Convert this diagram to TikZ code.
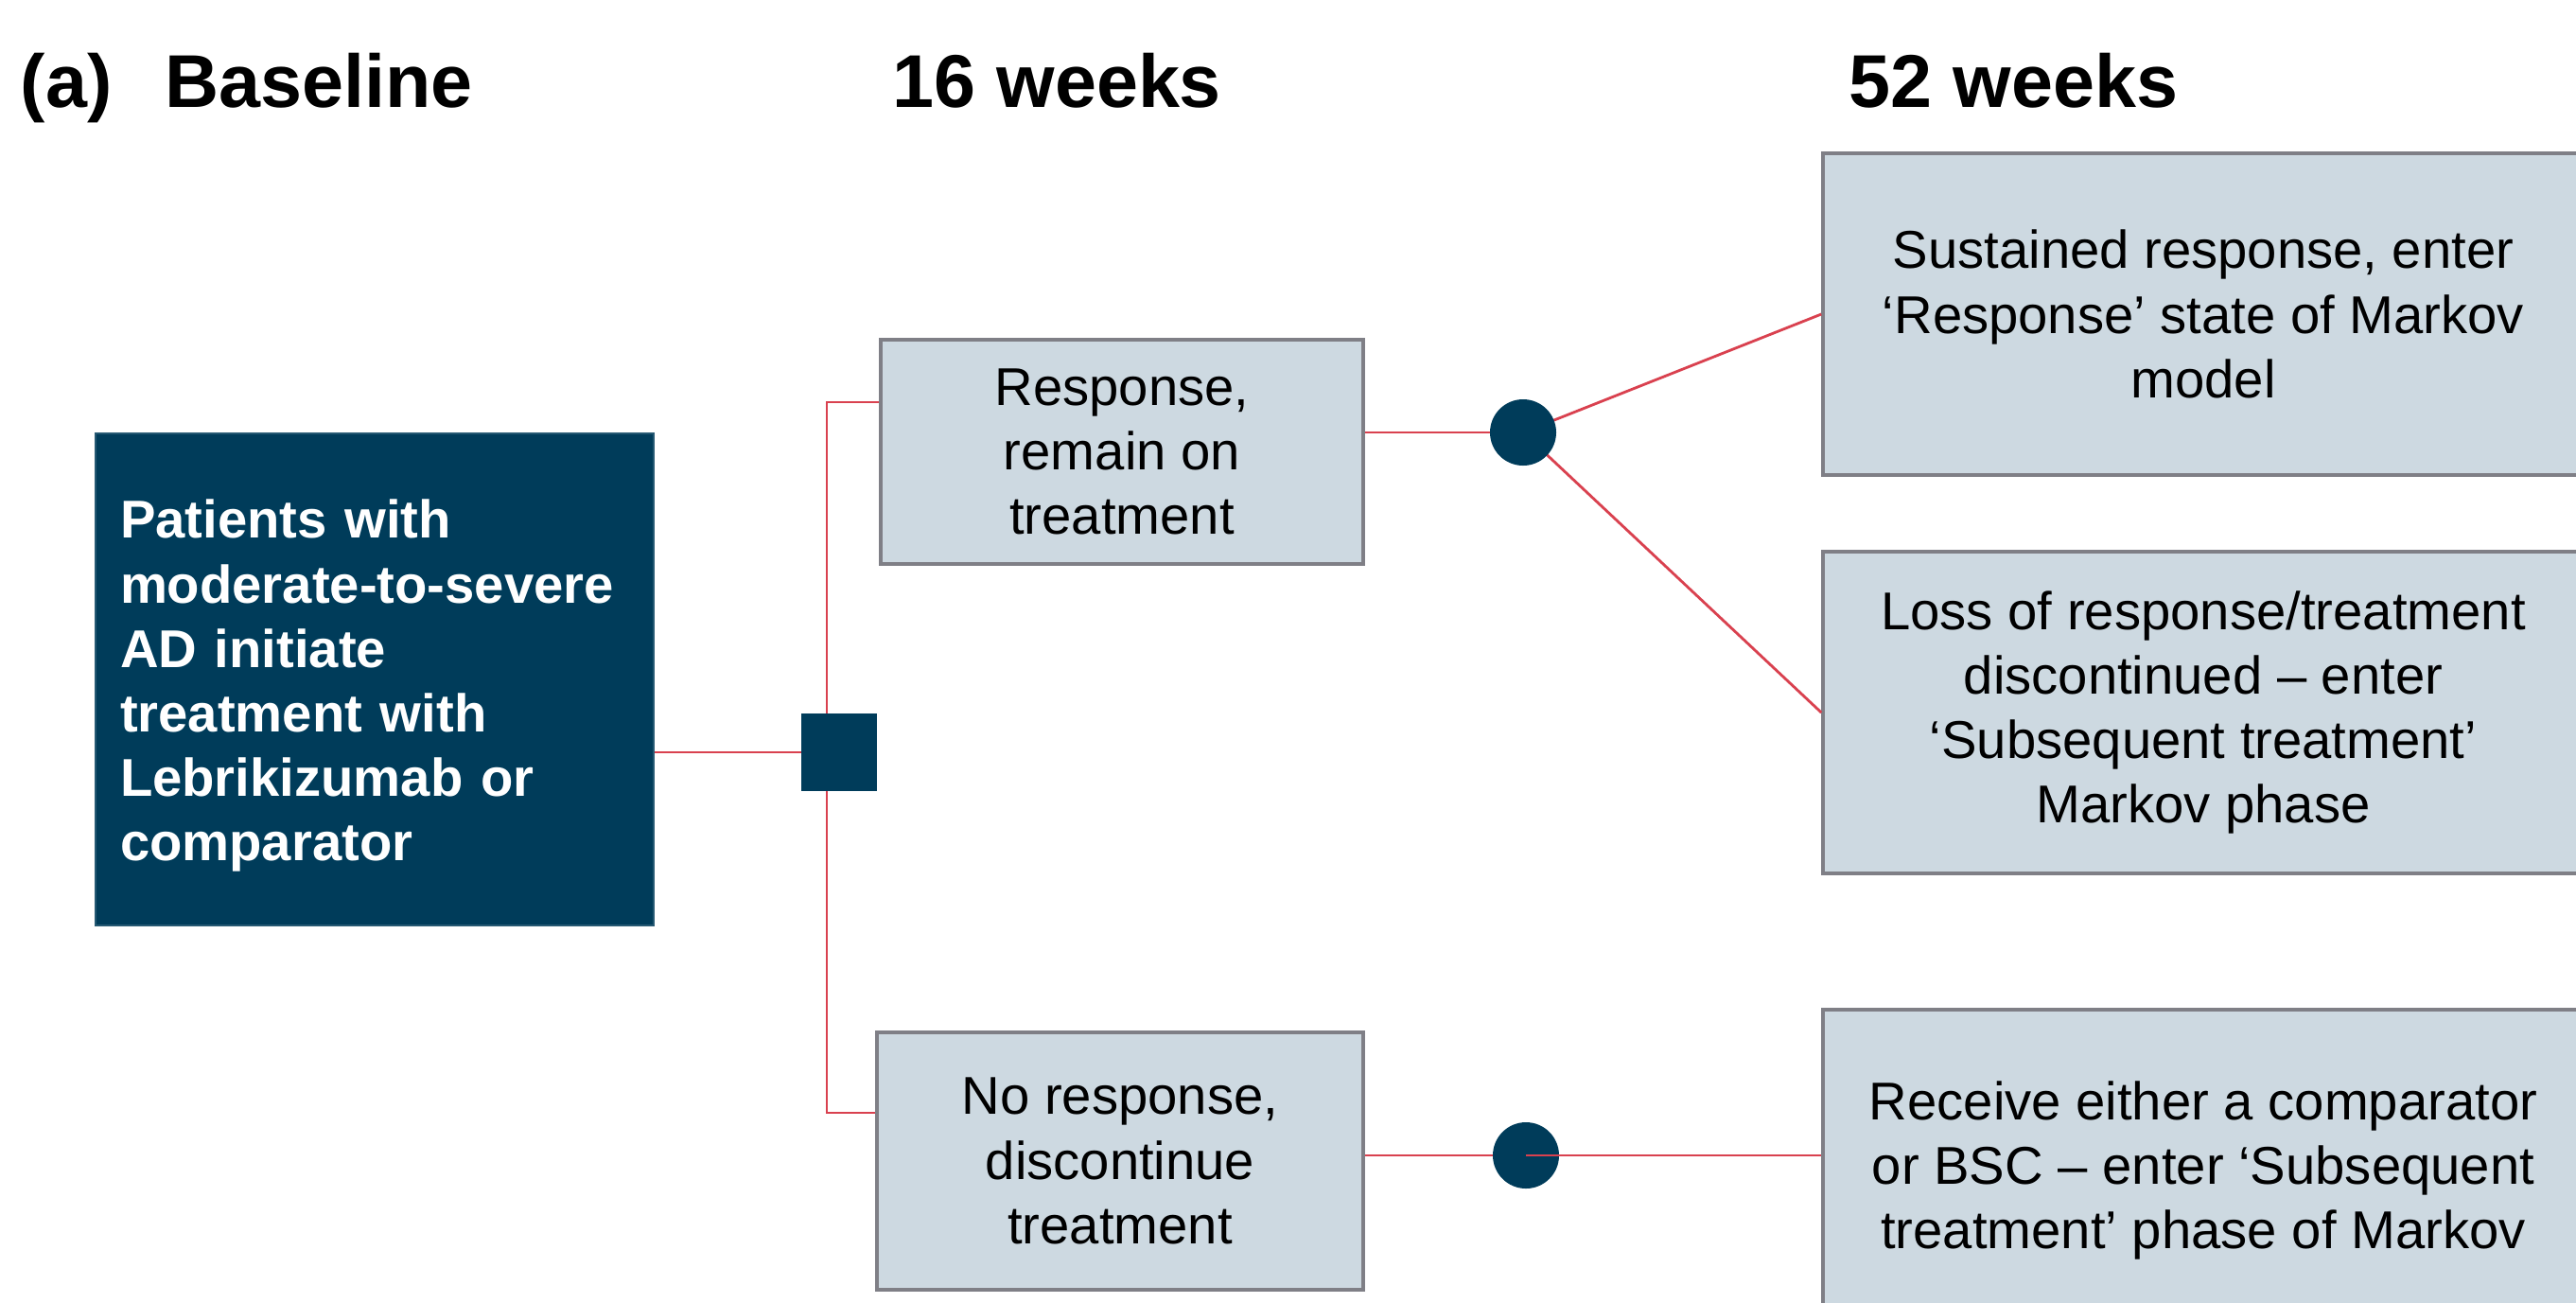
\documentclass[tikz,border=0pt]{standalone}
\usepackage{fontspec}
\setmainfont{Liberation Sans}
\usetikzlibrary{positioning}
\definecolor{navy}{HTML}{003C5A}
\definecolor{boxgray}{HTML}{CDD9E1}
\definecolor{edgegray}{HTML}{7F7F86}
\definecolor{branchred}{HTML}{D9414F}

\begin{document}
\begin{tikzpicture}[
  phase/.style={anchor=base west,inner sep=0pt,font=\fontsize{22.5}{27}\selectfont\bfseries},
  startbox/.style={rectangle,fill=navy,draw=navy!85!white,text=white,align=left,
    text width=5.38cm,inner xsep=0.26cm,minimum height=5.2cm,
    font=\fontsize{16}{19.4}\selectfont\bfseries},
  statebox/.style={rectangle,fill=boxgray,draw=edgegray,line width=1pt,align=center,
    inner sep=0pt,font=\fontsize{16}{19.4}\selectfont},
  decision/.style={rectangle,fill=navy,minimum width=0.8cm,minimum height=0.82cm,inner sep=0pt},
  chance/.style={circle,fill=navy,minimum size=0.7cm,inner sep=0pt},
  branch/.style={draw=branchred,line width=0.8pt}
]
\useasboundingbox (0,0) rectangle (27.23,-13.76);
\clip (0,0) rectangle (27.23,-13.76);

\draw (0.21,-1.13) node[phase] (lbla) {(a)};
\draw (1.74,-1.13) node[phase] (hbase) {Baseline};
\draw (9.43,-1.13) node[phase] (h16) {16 weeks};
\draw (19.54,-1.13) node[phase] (h52) {52 weeks};

\draw (3.96,-7.18) node[startbox] (pat) {\rule{0pt}{0.3cm}\\[-0.44cm]Patients with\\moderate-to-severe\\AD initiate\\treatment with\\Lebrikizumab or\\comparator};

\draw (11.86,-4.775) node[statebox,minimum width=5.10cm,minimum height=2.37cm] (resp) {Response,\\remain on\\treatment};
\draw (11.84,-12.27) node[statebox,minimum width=5.14cm,minimum height=2.72cm] (nores) {No response,\\discontinue\\treatment};

\draw (23.29,-3.32) node[statebox,minimum width=8.04cm,minimum height=3.40cm] (sust) {Sustained response, enter\\`Response' state of Markov\\model};
\draw (23.29,-7.53) node[statebox,minimum width=8.04cm,minimum height=3.40cm] (loss) {Loss of response/treatment\\discontinued -- enter\\`Subsequent treatment'\\Markov phase};
\draw (23.29,-12.37) node[statebox,minimum width=8.04cm,minimum height=3.40cm] (recv) {Receive either a comparator\\or BSC -- enter `Subsequent\\treatment' phase of Markov};

\coordinate (dec) at (8.865,-7.95);
\coordinate (ttop) at (8.74,-4.25);
\coordinate (tbot) at (8.74,-11.76);
\coordinate (c1) at (16.10,-4.57);
\coordinate (c2) at (16.13,-12.21);

\draw[branch] (dec -| pat.east) -- (dec);
\draw[branch] (ttop -| resp.west) -- (ttop) -- (tbot) -- (tbot -| nores.west);
\draw[branch] (c1 -| resp.east) -- (c1);
\draw[branch] (c1) -- (sust.west);
\draw[branch] (c1) -- (loss.west);
\draw[branch] (c2 -| nores.east) -- (c2);

\draw (dec) node[decision] (sq) {};
\draw (c1) node[chance] (ch1) {};
\draw (c2) node[chance] (ch2) {};

\draw[branch] (c2) -- (c2 -| recv.west);
\end{tikzpicture}
\end{document}
